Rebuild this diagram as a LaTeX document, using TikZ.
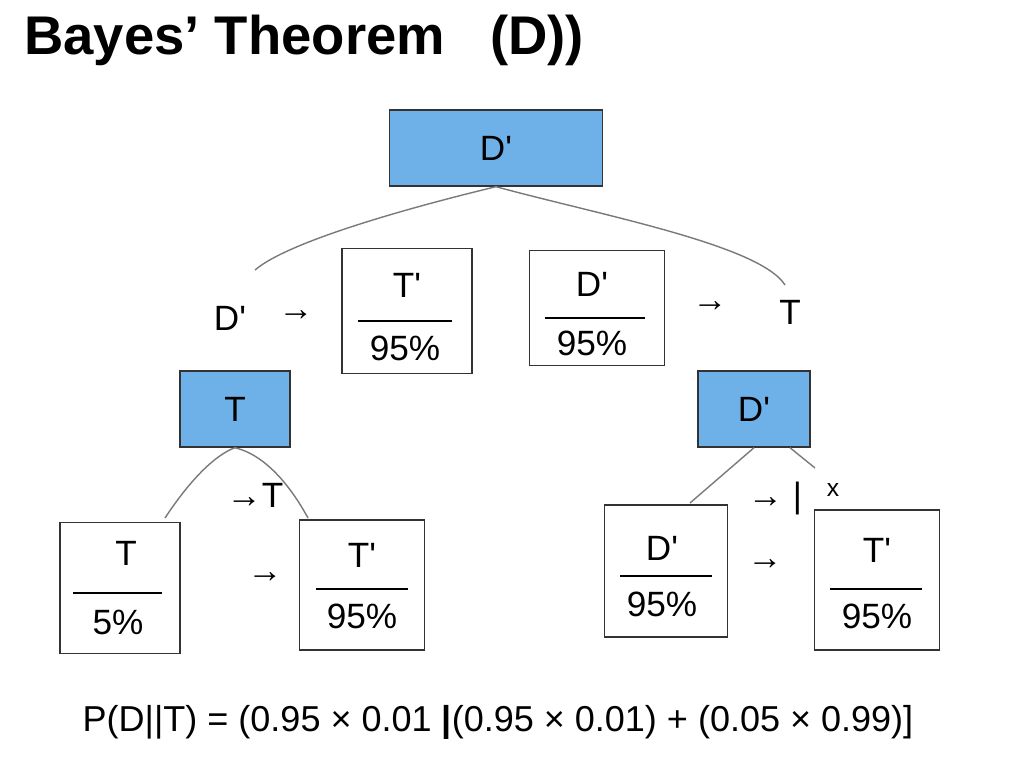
\documentclass[tikz,border=0pt]{standalone}
\usepackage{fontspec}
\setmainfont{Liberation Sans}
\definecolor{boxblue}{HTML}{6EB1E8}
\definecolor{lingray}{HTML}{7A7A7A}
\tikzset{
  bluebox/.style={draw=black!80, thick, fill=boxblue, minimum width=#1, minimum height=76*0.02cm, font=\fontsize{20}{24}\selectfont},
  fracbox/.style={draw=black!80, thick, fill=white},
  lbl/.style={font=\fontsize{20}{24}\selectfont},
  branch/.style={lingray, thick}
}
\newcommand{\pr}{\textquotesingle}
\begin{document}
\begin{tikzpicture}[x=0.02cm, y=-0.02cm]
  \useasboundingbox[fill=white] (0,0) rectangle (1024,757);
  \node[anchor=west, font=\fontsize{31}{36}\selectfont\bfseries] (title) at (18,40) {Bayes’ Theorem \ \ (D))};

  % top level
  \node[bluebox=213*0.02cm] (top) at (496,148) {D\pr};
  \coordinate (tl) at (255,270);
  \coordinate (tr) at (785,285);
  \draw[branch] (tl) .. controls (290,240) and (420,205) .. (top.south);
  \draw[branch] (top.south) .. controls (600,215) and (760,245) .. (tr);

  \node[lbl] (d1) at (230,318) {D\pr};
  \node[lbl] (a1) at (296,316) {→};
  \node[fracbox, minimum width=130*0.02cm, minimum height=125*0.02cm] (f1) at (407,311) {};
  \node[lbl] (f1t) at (407,285) {T\pr};
  \draw[thick] (358,321) -- (452,321);
  \node[lbl] (f1b) at (405,348) {95\%};

  \node[fracbox, minimum width=135*0.02cm, minimum height=115*0.02cm] (f2) at (597,308) {};
  \node[lbl] (f2t) at (592,284) {D\pr};
  \draw[thick] (545,318) -- (645,318);
  \node[lbl] (f2b) at (592,343) {95\%};
  \node[lbl] (a2) at (710,307) {→};
  \node[lbl] (t1) at (790,312) {T};

  % second level
  \node[bluebox=110*0.02cm] (bt) at (235,409) {T};
  \node[bluebox=112*0.02cm] (bd) at (754,409) {D\pr};

  \coordinate (l1) at (165,518);
  \coordinate (l2) at (308,518);
  \draw[branch] (l1) .. controls (190,480) and (215,455) .. (bt.south);
  \draw[branch] (bt.south) .. controls (265,455) and (290,485) .. (l2);
  \node[lbl] (a3) at (255,495) {→T};

  \coordinate (r1) at (690,503);
  \coordinate (r2) at (815,468);
  \draw[branch] (r1) -- (bd.south);
  \draw[branch] (bd.south -| 790,0) -- (r2);
  \node[lbl] (a4) at (775,498) {→ |};
  \node[font=\fontsize{14}{16}\selectfont] (x1) at (833,490) {x};

  % leaves
  \node[fracbox, minimum width=120*0.02cm, minimum height=131*0.02cm] (f3) at (120,588) {};
  \node[lbl] (f3t) at (126,553) {T};
  \draw[thick] (73,593) -- (162,593);
  \node[lbl] (f3b) at (118,622) {5\%};
  \node[lbl] (a5) at (265,578) {→};

  \node[fracbox, minimum width=125*0.02cm, minimum height=130*0.02cm] (f4) at (362,585) {};
  \node[lbl] (f4t) at (362,555) {T\pr};
  \draw[thick] (316,589) -- (408,589);
  \node[lbl] (f4b) at (362,616) {95\%};

  \node[fracbox, minimum width=123*0.02cm, minimum height=132*0.02cm] (f5) at (666,571) {};
  \node[lbl] (f5t) at (662,548) {D\pr};
  \draw[thick] (620,576) -- (712,576);
  \node[lbl] (f5b) at (662,604) {95\%};
  \node[lbl] (a6) at (765,565) {→};

  \node[fracbox, minimum width=125*0.02cm, minimum height=140*0.02cm] (f6) at (877,580) {};
  \node[lbl] (f6t) at (877,550) {T\pr};
  \draw[thick] (830,589) -- (922,589);
  \node[lbl] (f6b) at (877,616) {95\%};

  % formula
  \node[font=\fontsize{20.5}{24}\selectfont] (eq) at (498,722) {P(D||T) = (0.95 × 0.01 \textbf{|}(0.95 × 0.01) + (0.05 × 0.99)]};
\end{tikzpicture}
\end{document}
